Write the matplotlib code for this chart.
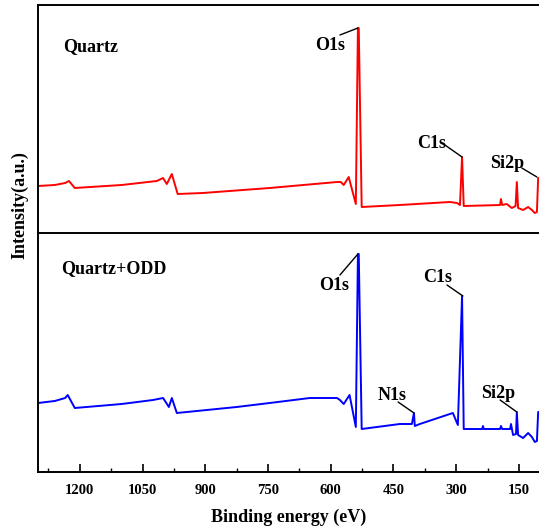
import numpy as np
import matplotlib.pyplot as plt
from matplotlib.ticker import MultipleLocator

plt.rcParams['font.family'] = ['Liberation Serif', 'DejaVu Serif']
plt.rcParams['font.weight'] = 'bold'

# survey spectra (binding energy in eV, intensity in a.u.)
be_quartz = [1300, 1260, 1235, 1226, 1212, 1100, 1016, 1001, 992, 980, 966, 906, 746, 585,
             576, 569, 557, 540, 535, 533, 526, 435, 315, 298, 291, 286, 282, 195, 193,
             190, 179, 167, 158, 155, 152, 140, 128, 119, 112, 107, 104, 102]
int_quartz = [47, 48, 50, 52, 45, 48, 52, 55, 49, 59, 39, 40, 45, 51,
              51, 48, 56, 29, 205, 205, 26, 28, 31, 30, 28, 76, 27, 28, 34,
              28, 29, 25, 27, 51, 25, 23, 26, 23, 20, 21, 55, 55]

be_odd = [1300, 1260, 1235, 1229, 1212, 1100, 1025, 1001, 987, 980, 968, 825, 746, 650,
          585, 578, 569, 555, 540, 535, 533, 526, 435, 406, 401, 399, 387, 308, 296,
          286, 282, 238, 236, 234, 195, 193, 190, 171, 169, 164, 157, 155, 152, 140,
          128, 119, 112, 107, 104, 102]
int_odd = [69, 71, 74, 77, 64, 68, 72, 74, 65, 74, 59, 65, 69, 74,
           74, 72, 68, 77, 45, 218, 218, 43, 48, 48, 59, 46, 48, 59, 47,
           176, 43, 43, 46, 43, 43, 46, 43, 43, 48, 37, 38, 60, 37, 34,
           39, 35, 30, 31, 60, 60]

# peak labels: text position, leader line start, leader line end
top_labels = ['O1s', 'C1s', 'Si2p']
top_text = [(602, 187), (358, 89), (179, 69)]
top_lines = [((578, 198), (535, 205)), ((327, 88), (286, 76)), ((143, 65), (107, 56))]

bot_labels = ['O1s', 'C1s', 'N1s', 'Si2p']
bot_text = [(592, 187), (344, 195), (454, 77), (200, 78)]
bot_lines = [((578, 197), (535, 218)), ((322, 187), (284, 176)),
             ((439, 70), (401, 59)), ((195, 72), (155, 60))]

W, H = 539, 526
fig = plt.figure(figsize=(W / 100, H / 100), dpi=100)
ax1 = fig.add_axes([38 / W, (H - 233) / H, 501 / W, 228 / H])
ax2 = fig.add_axes([38 / W, (H - 472) / H, 501 / W, 239 / H])

ax1.plot(be_quartz, int_quartz, color='#ff0000', lw=1.4)
ax2.plot(be_odd, int_odd, color='#0000ff', lw=1.4)
ax1.set_ylim(0, 228)
ax2.set_ylim(0, 239)

for ax in (ax1, ax2):
    ax.set_xlim(1300, 102)
    ax.spines['right'].set_visible(False)
    for s in ('left', 'top', 'bottom'):
        ax.spines[s].set_linewidth(1.4)
    ax.set_yticks([])
ax1.spines['bottom'].set_visible(False)
ax1.set_xticks([])

ax2.xaxis.set_major_locator(MultipleLocator(150))
ax2.xaxis.set_minor_locator(MultipleLocator(75))
ax2.tick_params(axis='x', which='major', direction='in', length=6, width=1.2, pad=9, labelsize=10.5)
ax2.tick_params(axis='x', which='minor', direction='in', length=3, width=1.0)
ax2.set_xlabel('Binding energy (eV)', fontsize=13, fontweight='bold', labelpad=8)

fig.text(20 / W, 1 - 205 / H, 'Intensity(a.u.)', rotation=90, ha='center', va='center',
         fontsize=13, fontweight='bold')

ax1.text(1240, 186, 'Quartz', fontsize=13, fontweight='bold', va='center', ha='left')
ax2.text(1245, 203, 'Quartz+ODD', fontsize=13, fontweight='bold', va='center', ha='left')

for ax, labels, texts, lines in ((ax1, top_labels, top_text, top_lines),
                                 (ax2, bot_labels, bot_text, bot_lines)):
    for lab, (tx, ty), (p0, p1) in zip(labels, texts, lines):
        ax.text(tx, ty, lab, fontsize=13, fontweight='bold', ha='center', va='center')
        ax.annotate('', xy=p1, xytext=p0,
                    arrowprops=dict(arrowstyle='-', color='black', lw=1.0,
                                    shrinkA=0, shrinkB=0))

fig.savefig('out.png', dpi=100)
